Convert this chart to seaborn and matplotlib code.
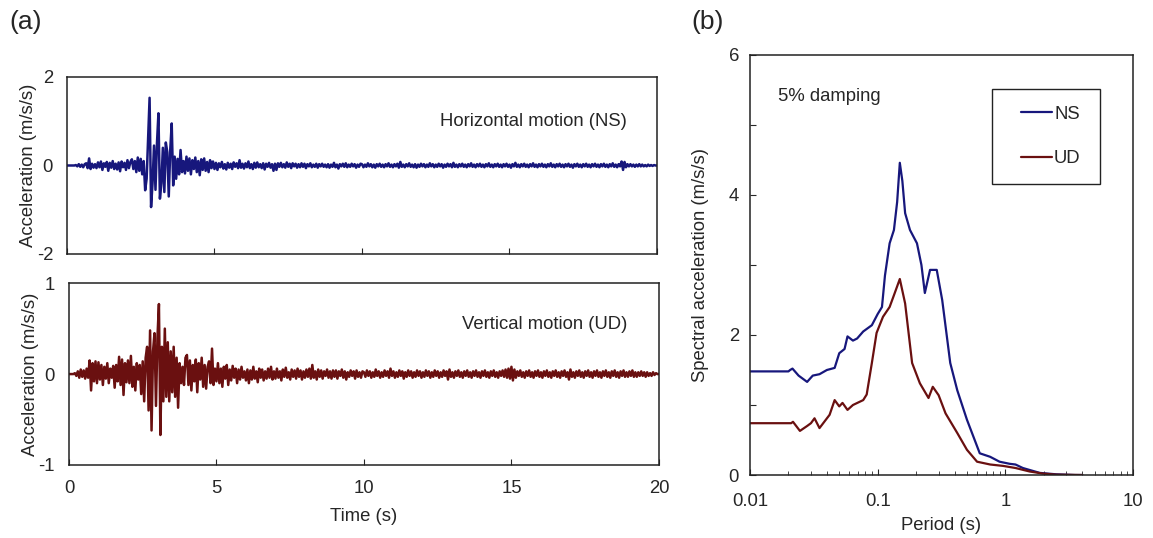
import matplotlib.pyplot as plt
import seaborn as sns
import numpy as np
import pandas as pd
from matplotlib.patches import Rectangle
from matplotlib.ticker import LogLocator, NullFormatter, FixedLocator

# Acceleration time histories, sampled every 0.05 s (one row per second)
dt = 0.05
ns_acc = [
    0, 0, 0, 0, 0, 0, 0.01, -0.02, 0.03, -0.03, 0.02, -0.04, 0.03, 0.05, -0.06, 0.16, -0.08, 0.04, -0.05, 0.03,
    -0.06, 0.07, -0.04, 0.09, -0.10, 0.05, -0.03, 0.08, -0.12, 0.06, -0.05, 0.10, -0.08, 0.04, -0.09, 0.07, -0.13, 0.09, -0.04, 0.06,
    -0.10, 0.12, -0.06, 0.08, 0.14, -0.08, 0.10, -0.15, 0.18, -0.12, 0.15, -0.20, 0.10, -0.56, -0.30, 0.60, 1.53, -0.94, -0.40, 0.45,
    -0.55, 0.50, 1.18, -0.75, -0.40, 0.40, -0.60, 0.52, 0.30, -0.70, 0.35, 0.95, -0.45, 0.20, -0.30, 0.15, -0.20, 0.35, -0.15, 0.10,
    -0.18, 0.20, -0.12, 0.16, -0.20, 0.12, -0.08, 0.18, -0.15, 0.10, -0.22, 0.14, -0.10, 0.16, -0.12, 0.08, -0.15, 0.12, -0.06, 0.09,
    -0.08, 0.06, -0.10, 0.05, -0.04, 0.08, -0.07, 0.03, -0.09, 0.06, -0.05, 0.04, -0.08, 0.07, -0.03, 0.05, -0.06, 0.12, -0.05, 0.04,
    -0.07, 0.05, -0.04, 0.09, -0.06, 0.03, -0.08, 0.06, -0.05, 0.07, -0.04, 0.03, -0.06, 0.05, -0.09, 0.04, -0.03, 0.06, -0.05, 0.03,
    -0.12, 0.04, -0.10, 0.05, -0.03, 0.06, -0.04, 0.03, -0.05, 0.07, -0.03, 0.04, -0.06, 0.05, -0.02, 0.04, -0.05, 0.03, -0.04, 0.05,
    -0.03, 0.04, -0.06, 0.03, -0.02, 0.05, -0.04, 0.02, -0.03, 0.04, -0.05, 0.03, -0.02, 0.04, -0.03, 0.02, -0.04, 0.03, -0.05, 0.02,
    -0.03, 0.06, -0.04, 0.02, -0.07, 0.03, -0.02, 0.04, -0.03, 0.05, -0.04, 0.02, -0.03, 0.04, -0.02, 0.03, -0.05, 0.02, -0.03, 0.04,
    0.03, -0.04, 0.02, -0.03, 0.05, -0.02, 0.03, -0.04, 0.02, -0.05, 0.03, -0.02, 0.04, -0.03, 0.02, -0.04, 0.03, -0.02, 0.05, -0.03,
    0.02, -0.04, 0.03, -0.02, 0.04, -0.05, 0.08, -0.03, 0.02, -0.04, 0.03, -0.02, 0.05, -0.03, 0.02, -0.04, 0.03, -0.05, 0.02, -0.03,
    0.04, -0.02, 0.03, -0.04, 0.02, -0.03, 0.05, -0.02, 0.03, -0.04, 0.02, -0.03, 0.04, -0.02, 0.03, -0.05, 0.02, -0.03, 0.04, -0.02,
    0.03, -0.04, 0.06, -0.03, 0.02, -0.04, 0.03, -0.02, 0.04, -0.03, 0.02, -0.04, 0.03, -0.02, 0.05, -0.03, 0.02, -0.04, 0.03, -0.02,
    0.04, -0.03, 0.02, -0.04, 0.03, -0.02, 0.05, -0.03, 0.02, -0.04, 0.03, -0.02, 0.04, -0.03, 0.02, -0.04, 0.03, -0.02, 0.04, -0.03,
    0.02, -0.05, 0.03, -0.02, 0.06, -0.03, 0.02, -0.04, 0.03, -0.02, 0.04, -0.03, 0.02, -0.04, 0.03, -0.02, 0.05, -0.03, 0.02, -0.04,
    0.03, -0.02, 0.04, -0.03, 0.02, -0.04, 0.03, -0.02, 0.05, -0.03, 0.02, -0.04, 0.03, -0.02, 0.04, -0.03, 0.02, -0.04, 0.03, -0.02,
    0.04, -0.03, 0.02, -0.05, 0.03, -0.02, 0.04, -0.03, 0.02, -0.04, 0.03, -0.02, 0.04, -0.03, 0.02, -0.04, 0.03, -0.02, 0.04, -0.03,
    0.02, -0.04, 0.03, -0.02, 0.04, -0.03, 0.02, -0.04, 0.03, -0.02, 0.05, -0.03, 0.02, -0.04, 0.03, -0.02, 0.09, -0.10, 0.08, -0.04,
    0.03, -0.02, 0.03, -0.02, 0.02, -0.03, 0.02, -0.02, 0.03, -0.02, 0.02, -0.02, 0.01, -0.02, 0.02, -0.01, 0.01, -0.01, 0.01, 0.0,
    0.0,
]
ud_acc = [
    0, 0, 0, 0, 0.01, -0.02, 0.03, -0.04, 0.05, -0.03, 0.04, -0.05, 0.06, -0.04, 0.15, -0.18, 0.12, -0.08, 0.14, -0.10,
    0.13, -0.06, 0.10, -0.12, 0.08, -0.05, 0.12, -0.10, 0.06, -0.04, 0.09, -0.15, 0.10, -0.08, 0.19, -0.12, 0.16, -0.23, 0.12, -0.09,
    0.15, -0.10, 0.20, -0.14, 0.08, -0.18, 0.12, -0.06, 0.10, -0.22, 0.14, -0.30, 0.18, 0.30, -0.40, 0.48, -0.62, 0.25, 0.45, -0.35,
    0.40, 0.77, -0.67, 0.30, -0.30, 0.50, -0.25, 0.35, -0.30, 0.25, -0.20, 0.30, -0.25, 0.18, -0.37, 0.12, -0.10, 0.08, -0.12, 0.18,
    0.21, -0.12, 0.15, -0.18, 0.10, -0.08, 0.16, -0.20, 0.12, -0.06, 0.18, -0.14, 0.10, -0.16, 0.08, 0.14, -0.10, 0.28, -0.12, 0.06,
    -0.08, 0.12, -0.10, 0.06, -0.14, 0.08, -0.05, 0.10, -0.12, 0.05, -0.07, 0.09, -0.04, 0.06, -0.10, 0.05, -0.06, 0.08, -0.04, 0.03,
    -0.07, 0.05, -0.10, 0.04, -0.06, 0.08, -0.05, 0.03, -0.09, 0.06, -0.04, 0.05, -0.07, 0.03, -0.05, 0.06, -0.04, 0.08, -0.06, 0.03,
    -0.05, 0.06, -0.04, 0.03, -0.07, 0.05, -0.03, 0.07, -0.04, 0.02, -0.06, 0.05, -0.03, 0.04, -0.05, 0.06, -0.03, 0.04, -0.06, 0.03,
    -0.04, 0.05, -0.03, 0.06, -0.05, 0.10, -0.04, 0.03, -0.06, 0.05, -0.03, 0.04, -0.05, 0.03, -0.02, 0.05, -0.04, 0.03, -0.05, 0.04,
    -0.03, 0.04, -0.05, 0.03, -0.02, 0.05, -0.04, 0.03, -0.06, 0.02, -0.03, 0.04, -0.02, 0.03, -0.05, 0.04, -0.03, 0.02, -0.04, 0.03,
    0.02, -0.03, 0.04, -0.02, 0.03, -0.04, 0.02, -0.03, 0.05, -0.02, 0.03, -0.04, 0.02, -0.03, 0.04, -0.02, 0.03, -0.04, 0.06, -0.02,
    0.03, -0.04, 0.02, -0.03, 0.04, -0.02, 0.03, -0.05, 0.02, -0.03, 0.04, -0.02, 0.03, -0.04, 0.02, -0.03, 0.04, -0.02, 0.03, -0.04,
    0.02, -0.03, 0.04, -0.02, 0.03, -0.04, 0.02, -0.03, 0.04, -0.02, 0.03, -0.04, 0.02, -0.03, 0.04, -0.02, 0.03, -0.06, 0.05, -0.03,
    0.02, -0.04, 0.03, -0.02, 0.04, -0.03, 0.02, -0.04, 0.03, -0.02, 0.04, -0.03, 0.02, -0.04, 0.03, -0.02, 0.04, -0.03, 0.02, -0.04,
    0.03, -0.02, 0.04, -0.03, 0.02, -0.04, 0.03, -0.02, 0.04, -0.03, 0.02, -0.04, 0.03, -0.02, 0.04, -0.03, 0.05, -0.04, 0.06, -0.05,
    0.08, -0.07, 0.05, -0.04, 0.03, -0.02, 0.04, -0.03, 0.02, -0.04, 0.03, -0.02, 0.04, -0.03, 0.02, -0.04, 0.03, -0.02, 0.04, -0.03,
    0.02, -0.04, 0.03, -0.02, 0.04, -0.03, 0.02, -0.04, 0.03, -0.02, 0.04, -0.03, 0.02, -0.04, 0.03, -0.02, 0.04, -0.03, 0.02, -0.06,
    0.05, -0.03, 0.02, -0.04, 0.03, -0.02, 0.04, -0.03, 0.02, -0.04, 0.03, -0.02, 0.04, -0.03, 0.02, -0.04, 0.03, -0.02, 0.04, -0.03,
    0.02, -0.04, 0.03, -0.02, 0.04, -0.03, 0.02, -0.04, 0.03, -0.02, 0.04, -0.03, 0.02, -0.04, 0.03, -0.02, 0.04, -0.03, 0.02, -0.03,
    0.03, -0.02, 0.04, -0.03, 0.02, -0.03, 0.02, -0.02, 0.03, -0.02, 0.02, -0.03, 0.02, -0.02, 0.01, -0.02, 0.02, -0.01, 0.01, 0.0,
    0.0,
]

# Response spectra (5% damping)
ns_period = [0.01, 0.02, 0.0206, 0.0215, 0.024, 0.028, 0.031, 0.035, 0.040, 0.046,
             0.050, 0.055, 0.058, 0.064, 0.069, 0.077, 0.090, 0.100, 0.108, 0.114,
             0.124, 0.134, 0.142, 0.149, 0.156, 0.164, 0.179, 0.203, 0.220, 0.234,
             0.257, 0.290, 0.320, 0.33, 0.37, 0.42, 0.50, 0.63, 0.76, 0.90,
             1.08, 1.2, 1.37, 1.86, 2.5, 3.5, 4.0]
ns_sa = [1.48, 1.48, 1.50, 1.52, 1.42, 1.33, 1.42, 1.44, 1.50, 1.53,
         1.74, 1.80, 1.98, 1.92, 1.95, 2.05, 2.14, 2.30, 2.40, 2.85,
         3.31, 3.50, 3.90, 4.46, 4.20, 3.74, 3.50, 3.31, 3.00, 2.60,
         2.93, 2.93, 2.50, 2.31, 1.60, 1.21, 0.79, 0.31, 0.26, 0.19,
         0.16, 0.15, 0.10, 0.03, 0.01, 0.0, 0.0]
ud_period = [0.01, 0.021, 0.0217, 0.0246, 0.028, 0.030, 0.032, 0.035, 0.042, 0.046,
             0.050, 0.053, 0.058, 0.064, 0.077, 0.082, 0.090, 0.098, 0.110, 0.124,
             0.136, 0.149, 0.164, 0.186, 0.214, 0.250, 0.270, 0.300, 0.340, 0.420,
             0.500, 0.600, 0.760, 0.960, 1.2, 1.55, 1.97, 2.5, 4.0]
ud_sa = [0.74, 0.74, 0.76, 0.63, 0.70, 0.74, 0.81, 0.67, 0.86, 1.07,
         0.98, 1.03, 0.93, 1.00, 1.07, 1.15, 1.60, 2.03, 2.26, 2.40,
         2.60, 2.80, 2.45, 1.60, 1.31, 1.10, 1.26, 1.14, 0.88, 0.60,
         0.36, 0.19, 0.15, 0.13, 0.10, 0.05, 0.02, 0.005, 0.0]

ns_color = "#17177c"
ud_color = "#6a1010"

sns.set_style("ticks")
plt.rcParams["font.family"] = ["Liberation Sans", "DejaVu Sans"]
plt.rcParams["axes.unicode_minus"] = False
plt.rcParams["xtick.direction"] = "in"
plt.rcParams["ytick.direction"] = "in"

time = np.arange(len(ns_acc)) * dt
fs = 13.3

fig = plt.figure(figsize=(11.53, 5.38), dpi=100)
ax1 = fig.add_axes([0.0581, 0.5279, 0.5117, 0.329])
ax2 = fig.add_axes([0.0598, 0.1357, 0.5117, 0.338])
ax3 = fig.add_axes([0.6505, 0.1171, 0.3322, 0.7807])

# (a) time histories
sns.lineplot(x=time, y=ns_acc, ax=ax1, color=ns_color, lw=1.8, sort=False, estimator=None)
ax1.set_xlim(0, 20)
ax1.set_ylim(-2, 2)
ax1.set_yticks([-2, 0, 2])
ax1.set_xticks([0, 5, 10, 15, 20])
ax1.set_xticklabels([])
ax1.set_ylabel("Acceleration (m/s/s)", fontsize=fs, labelpad=0)
ax1.text(0.949, 0.75, "Horizontal motion (NS)", transform=ax1.transAxes,
         ha="right", va="center", fontsize=fs)

sns.lineplot(x=time, y=ud_acc, ax=ax2, color=ud_color, lw=1.8, sort=False, estimator=None)
ax2.set_xlim(0, 20)
ax2.set_ylim(-1, 1)
ax2.set_yticks([-1, 0, 1])
ax2.set_xticks([0, 5, 10, 15, 20])
ax2.set_xlabel("Time (s)", fontsize=fs, labelpad=8)
ax2.set_ylabel("Acceleration (m/s/s)", fontsize=fs, labelpad=0)
ax2.text(0.946, 0.77, "Vertical motion (UD)", transform=ax2.transAxes,
         ha="right", va="center", fontsize=fs)

for ax in (ax1, ax2):
    ax.tick_params(axis="y", length=0, labelsize=fs, pad=10)
    ax.tick_params(axis="x", length=4, labelsize=fs, pad=11)
    for s in ax.spines.values():
        s.set_visible(True)
        s.set_linewidth(1.1)
        s.set_color("#222222")

# (b) response spectra
sns.lineplot(x=ns_period, y=ns_sa, ax=ax3, color=ns_color, lw=1.6, sort=False,
             estimator=None, label="NS")
sns.lineplot(x=ud_period, y=ud_sa, ax=ax3, color=ud_color, lw=1.6, sort=False,
             estimator=None, label="UD")
ax3.set_xscale("log")
ax3.set_xlim(0.01, 10)
ax3.set_ylim(0, 6)
ax3.xaxis.set_major_locator(FixedLocator([0.01, 0.1, 1, 10]))
ax3.set_xticklabels(["0.01", "0.1", "1", "10"])
ax3.xaxis.set_minor_locator(LogLocator(base=10, subs=np.arange(2, 10)))
ax3.xaxis.set_minor_formatter(NullFormatter())
ax3.set_yticks([0, 1, 2, 3, 4, 5, 6])
ax3.set_yticklabels(["0", "", "2", "", "4", "", "6"])
ax3.tick_params(axis="y", which="major", length=4, labelsize=fs, pad=8)
ax3.tick_params(axis="x", which="major", length=4, labelsize=fs, pad=13)
ax3.tick_params(axis="x", which="minor", length=3)
ax3.set_xlabel("Period (s)", fontsize=fs, labelpad=5)
ax3.set_ylabel("Spectral acceleration (m/s/s)", fontsize=fs, labelpad=14)
for s in ax3.spines.values():
    s.set_visible(True)
    s.set_linewidth(1.1)
    s.set_color("#222222")
ax3.text(0.073, 0.9, "5% damping", transform=ax3.transAxes,
         ha="left", va="center", fontsize=fs)

# legend inside a fixed square frame
ax3.add_patch(Rectangle((0.632, 0.693), 0.282, 0.226, transform=ax3.transAxes,
                        fill=False, edgecolor="#222222", lw=1.0, zorder=5))
ax3.legend(loc="center", bbox_to_anchor=(0.785, 0.806), fontsize=fs,
           frameon=False, handlelength=1.7, handletextpad=0.1,
           labelspacing=1.5, borderpad=0.0)

fig.text(0.008, 0.96, "(a)", fontsize=19, ha="left", va="center")
fig.text(0.600, 0.96, "(b)", fontsize=19, ha="left", va="center")

fig.savefig("out.png", dpi=100)
